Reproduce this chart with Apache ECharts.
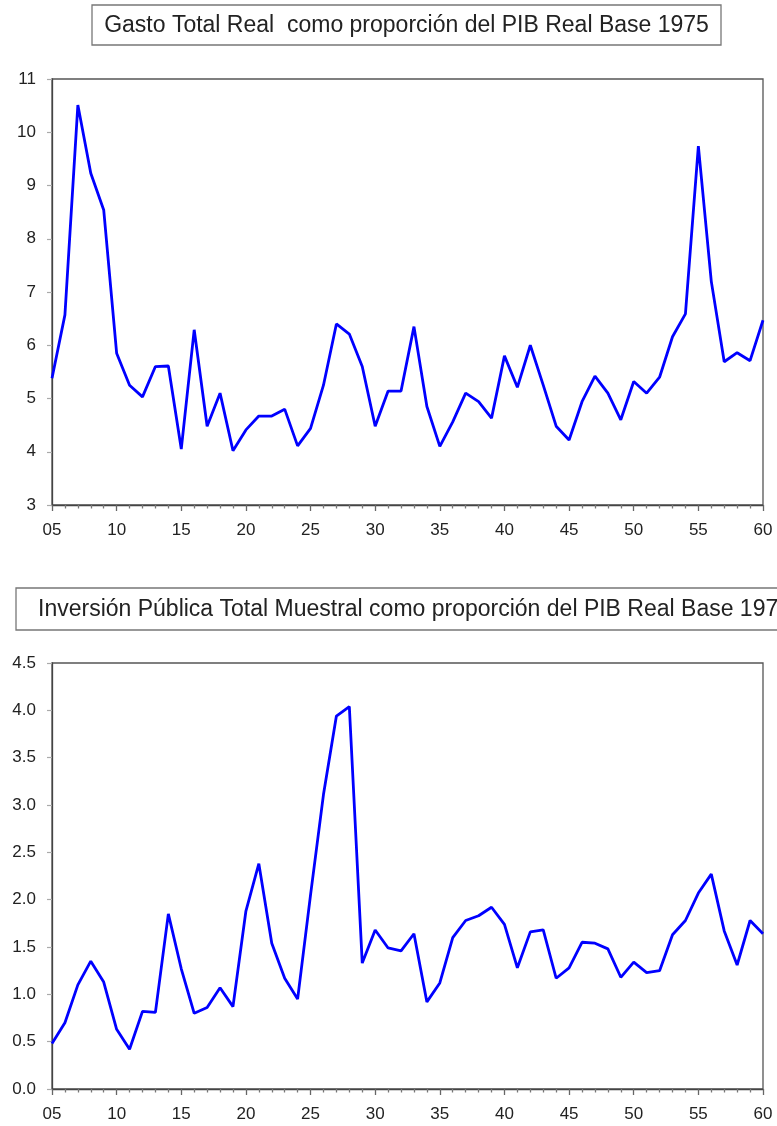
<!DOCTYPE html>
<html>
<head>
<meta charset="utf-8">
<script src="https://cdn.jsdelivr.net/npm/echarts@6/dist/echarts.min.js"></script>
<style>
html,body{margin:0;padding:0;background:#fff;}
#c{width:777px;height:1126px;}
</style>
</head>
<body>
<div id="c"></div>
<script>
const years = [1905,1906,1907,1908,1909,1910,1911,1912,1913,1914,1915,1916,1917,1918,1919,1920,
  1921,1922,1923,1924,1925,1926,1927,1928,1929,1930,1931,1932,1933,1934,1935,1936,1937,1938,1939,1940,
  1941,1942,1943,1944,1945,1946,1947,1948,1949,1950,1951,1952,1953,1954,1955,1956,1957,1958,1959,1960];

const gastoTotal = [5.38,6.57,10.51,9.23,8.54,5.85,5.25,5.03,5.60,5.61,4.05,6.29,4.48,5.10,4.02,4.41,
  4.67,4.67,4.80,4.11,4.44,5.25,6.40,6.21,5.60,4.48,5.14,5.14,6.35,4.85,4.10,4.56,5.10,4.94,4.63,5.80,
  5.21,6.00,5.25,4.48,4.22,4.94,5.42,5.10,4.60,5.32,5.10,5.40,6.16,6.59,9.74,7.20,5.69,5.86,5.71,6.47];

const inversionPublica = [0.48,0.70,1.10,1.35,1.13,0.63,0.42,0.82,0.81,1.85,1.27,0.80,0.86,1.07,0.87,1.88,
  2.38,1.54,1.17,0.95,2.05,3.11,3.94,4.04,1.33,1.68,1.49,1.46,1.64,0.92,1.12,1.60,1.78,1.83,1.92,1.74,
  1.28,1.66,1.68,1.17,1.28,1.55,1.54,1.48,1.18,1.34,1.23,1.25,1.63,1.78,2.07,2.27,1.67,1.31,1.78,1.64];

const title1 = 'Gasto Total Real  como proporción del PIB Real Base 1975';
const title2 = 'Inversión Pública Total Muestral como proporción del PIB Real Base 1975';

const FONT = '"Liberation Sans", Arial, sans-serif';

function xAxisCfg(gi) {
  return {
    type: 'value', gridIndex: gi, min: 1905, max: 1960, interval: 5,
    axisLine: { show: true, lineStyle: { color: '#444', width: 1.3 } },
    axisTick: { show: true, length: 6, inside: false, lineStyle: { color: '#666', width: 1.3 } },
    minorTick: { show: true, splitNumber: 5, length: 3.5, lineStyle: { color: '#777', width: 1.3 } },
    splitLine: { show: false },
    axisLabel: {
      margin: 17, color: '#222', fontSize: 17, fontFamily: FONT,
      formatter: v => String(v % 100).padStart(2, '0')
    }
  };
}
function yAxisCfg(gi, min, max, interval, dec) {
  return {
    type: 'value', gridIndex: gi, min: min, max: max, interval: interval,
    axisLine: { show: true, lineStyle: { color: '#444', width: 1.3 } },
    axisTick: { show: true, length: 5, inside: false, lineStyle: { color: '#aaa', width: 1.2 } },
    splitLine: { show: false },
    axisLabel: {
      margin: 16, color: '#222', fontSize: 17, fontFamily: FONT,
      formatter: v => v.toFixed(dec)
    }
  };
}

const chart = echarts.init(document.getElementById('c'), null, { renderer: 'canvas' });
chart.setOption({
  animation: false,
  backgroundColor: '#fff',
  grid: [
    { left: 52, top: 79, width: 711, height: 426, show: true, borderColor: '#555', borderWidth: 1.3, backgroundColor: 'transparent' },
    { left: 52, top: 663, width: 711, height: 426, show: true, borderColor: '#555', borderWidth: 1.3, backgroundColor: 'transparent' }
  ],
  xAxis: [xAxisCfg(0), xAxisCfg(1)],
  yAxis: [yAxisCfg(0, 3, 11, 1, 0), yAxisCfg(1, 0, 4.5, 0.5, 1)],
  series: [
    {
      type: 'line', xAxisIndex: 0, yAxisIndex: 0, symbol: 'none',
      lineStyle: { color: '#0000ff', width: 2.8 },
      data: years.map((y, i) => [y, gastoTotal[i]])
    },
    {
      type: 'line', xAxisIndex: 1, yAxisIndex: 1, symbol: 'none',
      lineStyle: { color: '#0000ff', width: 2.8 },
      data: years.map((y, i) => [y, inversionPublica[i]])
    }
  ],
  graphic: [
    { type: 'rect', shape: { x: 92, y: 5, width: 629, height: 40 },
      style: { fill: '#fff', stroke: '#777', lineWidth: 1.3 } },
    { type: 'text', x: 406.5, y: 26,
      style: { text: title1, fill: '#222', font: '23px ' + FONT, textAlign: 'center', textVerticalAlign: 'middle' } },
    { type: 'rect', shape: { x: 16, y: 588, width: 800, height: 42 },
      style: { fill: '#fff', stroke: '#777', lineWidth: 1.3 } },
    { type: 'text', x: 38, y: 610,
      style: { text: title2, fill: '#222', font: '23px ' + FONT, textAlign: 'left', textVerticalAlign: 'middle' } }
  ]
});
</script>
</body>
</html>
